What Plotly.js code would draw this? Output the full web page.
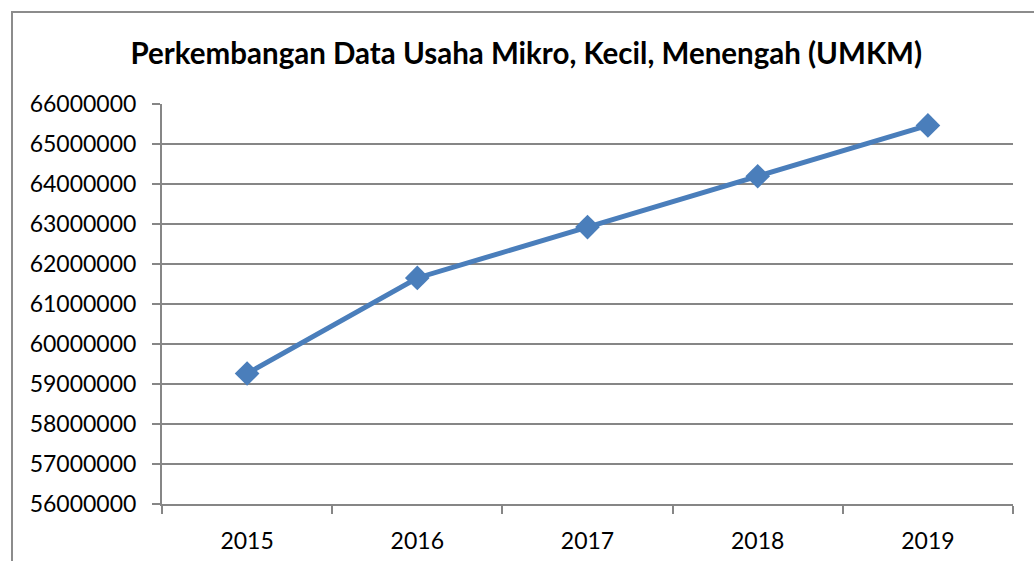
<!DOCTYPE html>
<html><head><meta charset="utf-8">
<script src="https://cdn.plot.ly/plotly-3.0.1.min.js"></script>
<style>
html,body{margin:0;padding:0;background:#fff;}
#wrap{position:relative;width:1034px;height:561px;overflow:hidden;}
#frame{position:absolute;left:11px;top:11px;width:1100px;height:600px;border-left:2px solid #8c8c8c;border-top:2px solid #8c8c8c;pointer-events:none;z-index:5;}
#chart{position:absolute;left:0;top:0;width:1034px;height:561px;}
</style></head>
<body>
<div id="wrap"><div id="chart"></div><div id="frame"></div></div>
<script>
const years = ['2015','2016','2017','2018','2019'];
const umkm = [59262772, 61651177, 62922617, 64194057, 65465497];
const yTicks = [56000000,57000000,58000000,59000000,60000000,61000000,62000000,63000000,64000000,65000000,66000000];
const titleText = 'Perkembangan Data Usaha Mikro, Kecil, Menengah (UMKM)';

const trace = {
  x: years, y: umkm, type: 'scatter', mode: 'lines+markers',
  line: {color: '#4a7ebb', width: 5},
  marker: {symbol: 'diamond', size: 19, color: '#4a7ebb'},
  hoverinfo: 'x+y'
};
const layout = {
  width: 1034, height: 561,
  margin: {l: 162, r: 21, t: 104, b: 57},
  paper_bgcolor: '#fff', plot_bgcolor: '#fff',
  font: {family: 'Lato, "Open Sans", sans-serif', color: '#000', size: 23},
  title: {text: '<b>' + titleText + '</b>', font: {size: 29.5, family: 'Lato, "Open Sans", sans-serif', color: '#000'}, x: 0.509, xanchor: 'center', y: 0.905, yanchor: 'middle'},
  showlegend: false,
  xaxis: {type: 'category', range: [-0.5, 4.5], showgrid: false, showline: true, linecolor: '#868686', linewidth: 2,
          ticks: 'outside', tickson: 'boundaries', ticklen: 8, tickwidth: 2, tickcolor: '#868686',
          ticklabelstandoff: 15, tickfont: {size: 23}, zeroline: false},
  yaxis: {range: [56000000, 66000000], tickvals: yTicks, tickformat: 'd', showgrid: true, gridcolor: '#868686', gridwidth: 2,
          showline: true, linecolor: '#868686', linewidth: 2, ticks: 'outside', ticklen: 8, tickwidth: 2, tickcolor: '#868686',
          ticklabelstandoff: 11, tickfont: {size: 23}, zeroline: false}
};
Plotly.newPlot('chart', [trace], layout, {displayModeBar: false, staticPlot: true});
</script>
</body></html>
